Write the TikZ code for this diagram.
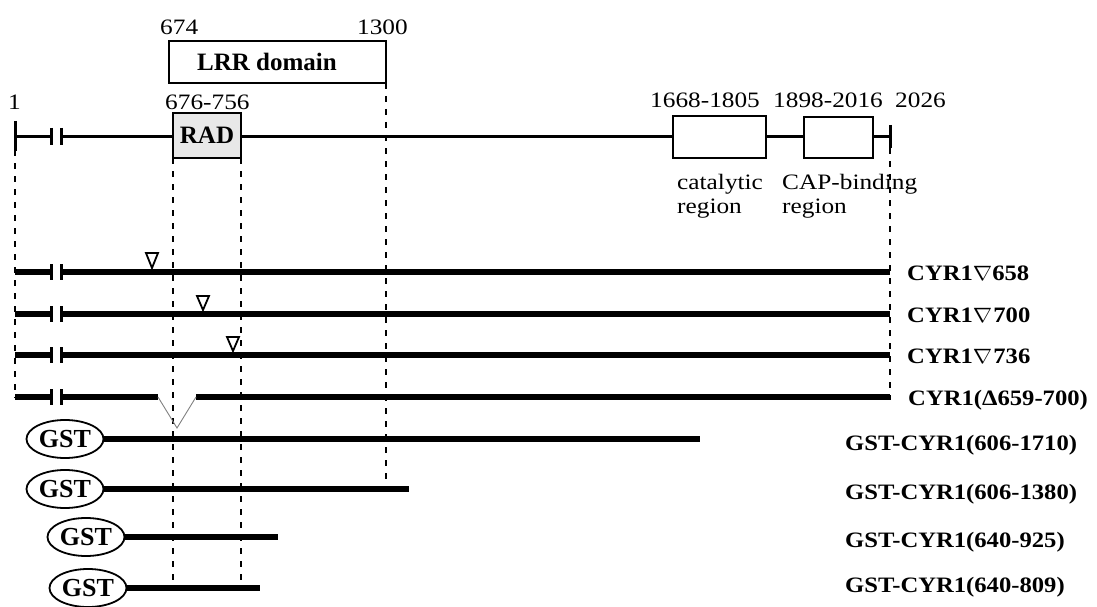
\documentclass[tikz,border=0pt]{standalone}
\usepackage{fontspec}
\setmainfont{Liberation Serif}
\usetikzlibrary{shapes.geometric}
\begin{document}
\begin{tikzpicture}[x=1pt,y=-1pt,
  num/.style={font=\fontsize{22}{24}\selectfont, inner sep=0pt, anchor=base west, xscale=1.15, transform shape},
  lab/.style={font=\fontsize{22}{24}\selectfont\bfseries, inner sep=0pt, anchor=base west, xscale=1.12, transform shape},
  mainline/.style={line width=2.2pt},
  fatline/.style={line width=5.5pt},
  guide/.style={line width=2pt, dash pattern=on 6pt off 7pt},
  boxed/.style={draw, line width=2pt, inner sep=0pt, outer sep=0pt},
  brk/.style={line width=3pt},
  tri/.style={line width=1.8pt, line join=miter},
  gst/.style={draw, ellipse, line width=1.8pt, inner sep=0pt, minimum width=77pt, minimum height=38pt, font=\fontsize{26}{28}\selectfont\bfseries},
  vcut/.style={line width=0.9pt, gray}
]
\useasboundingbox (0,0) rectangle (1097,607);

% boxes
\node[boxed, minimum width=217pt, minimum height=42pt] (lrr) at (277.5,62) {};
\node[inner sep=0pt, font=\fontsize{25}{27}\selectfont\bfseries] (lrrtext) at (267,62) {LRR domain};
\node[boxed, fill=black!9, minimum width=68pt, minimum height=45pt, font=\fontsize{25}{27}\selectfont\bfseries] (rad) at (207,135.5) {RAD};
\node[boxed, minimum width=93pt, minimum height=42pt] (cat) at (719.5,137) {};
\node[boxed, minimum width=69pt, minimum height=41pt] (cap) at (838.5,137.5) {};

% dashed guides
\coordinate (g1a) at (15,150); \coordinate (g1b) at (15,398);
\coordinate (g5a) at (890,148); \coordinate (g5b) at (890,400);
\coordinate (g2b) at (rad.west |- 0,582);
\coordinate (g3b) at (rad.east |- 0,582);
\coordinate (g4b) at (lrr.east |- 0,483);
\draw[guide] (g1a) -- (g1b);
\draw[guide] (g5a) -- (g5b);
\draw[guide] (rad.south west) -- (g2b);
\draw[guide] (rad.south east) -- (g3b);
\draw[guide] (lrr.south east) -- (g4b);

% main line
\coordinate (m0) at (15,136.5);
\coordinate (m1) at (51,136.5);
\coordinate (m2) at (61,136.5);
\coordinate (m3) at (890,136.5);
\draw[mainline] (m0) -- (m1);
\draw[mainline] (m2) -- (rad.west |- m2);
\draw[mainline] (rad.east |- m2) -- (cat.west |- m2);
\draw[mainline] (cat.east |- m2) -- (cap.west |- m2);
\draw[mainline] (cap.east |- m2) -- (m3);
\draw[brk] (15,121) -- (15,151);
\draw[brk] (51,128) -- (51,145);
\draw[brk] (61,128) -- (61,145);
\draw[brk] (890,125) -- (890,148);

% labels top
\node[num] (t674) at (160,35) {674};
\node[num, anchor=base east] (t1300) at (408,35) {1300};
\node[num] (t1) at (8,110) {1};
\node[num] (trad) at (165,110) {676-756};
\node[num] (tcat) at (650,108) {1668-1805};
\node[num] (tcap) at (773,108) {1898-2016};
\node[num] (tend) at (895,108) {2026};
\node[num] (c1) at (677,189) {catalytic};
\node[num] (c2) at (677,213) {region};
\node[num] (d1) at (782,189) {CAP-binding};
\node[num] (d2) at (782,213) {region};

% insertion rows
\foreach \y in {272,314,355,397}{
  \draw[fatline] (15,\y) -- (51,\y);
  \draw[brk] (51,\y-8) -- (51,\y+8);
  \draw[brk] (61,\y-8) -- (61,\y+8);
}
\draw[fatline] (61,272) -- (890,272);
\draw[fatline] (61,314) -- (890,314);
\draw[fatline] (61,355) -- (890,355);
\draw[fatline] (61,397) -- (158,397);
\draw[fatline] (196,397) -- (890,397);
\draw[vcut] (158,397) -- (177,428) -- (196,397);

% insertion marks
\draw[tri] (146,253) -- (158,253) -- (152,268) -- cycle;
\draw[tri] (197,296) -- (209,296) -- (203,310) -- cycle;
\draw[tri] (227,337) -- (239,337) -- (233,351) -- cycle;

% right labels
\node[lab] (r1) at (907,280) {CYR1$\nabla$658};
\node[lab] (r2) at (907,322) {CYR1$\nabla$\kern1pt700};
\node[lab] (r3) at (907,363) {CYR1$\nabla$\kern1pt736};
\node[lab] (r4) at (908,405) {CYR1(Δ659-700)};

% GST constructs
\node[gst] (e1) at (65,439) {GST};
\node[gst] (e2) at (65,489) {GST};
\node[gst] (e3) at (86,537) {GST};
\node[gst] (e4) at (88,588) {GST};
\coordinate (f1) at (700,439);
\coordinate (f2) at (409,489);
\coordinate (f3) at (278,537);
\coordinate (f4) at (260,588);
\draw[fatline] (e1.east) -- (f1);
\draw[fatline] (e2.east) -- (f2);
\draw[fatline] (e3.east) -- (f3);
\draw[fatline] (e4.east) -- (f4);
\node[lab] (s1) at (845,450) {GST-CYR1(606-1710)};
\node[lab] (s2) at (845,499) {GST-CYR1(606-1380)};
\node[lab] (s3) at (845,547) {GST-CYR1(640-925)};
\node[lab] (s4) at (845,592) {GST-CYR1(640-809)};
\end{tikzpicture}
\end{document}
